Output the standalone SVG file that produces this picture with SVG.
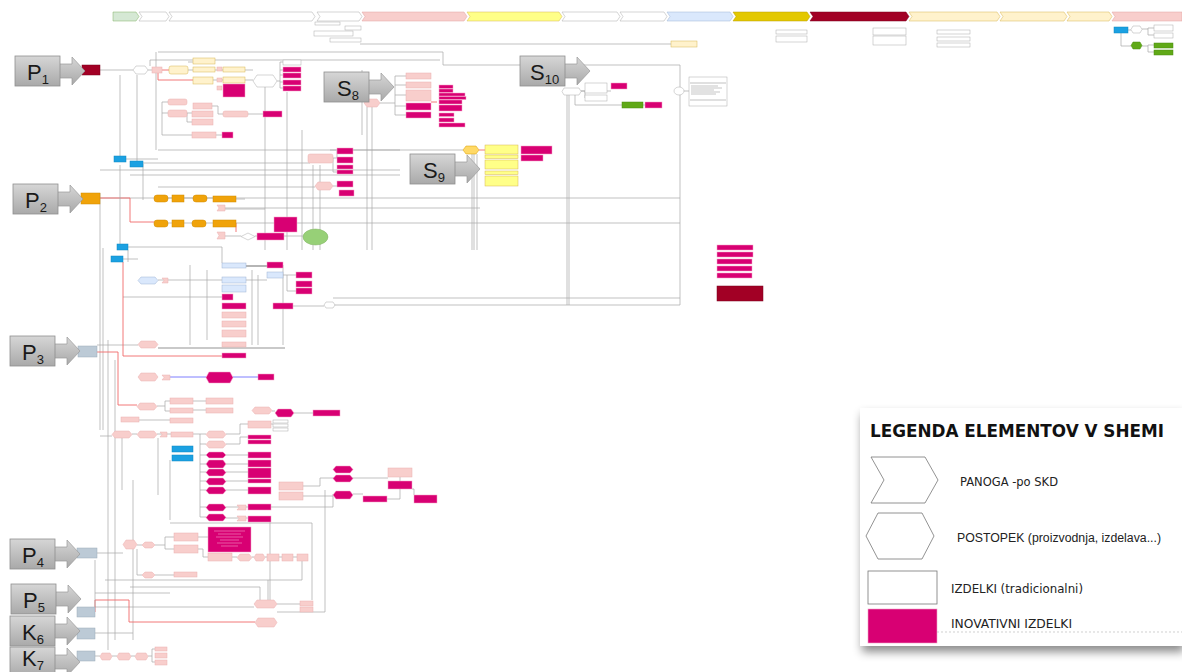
<svg xmlns="http://www.w3.org/2000/svg" width="1182" height="672" viewBox="0 0 1182 672">
<defs>
<linearGradient id="gg" x1="0" y1="0" x2="0" y2="1"><stop offset="0" stop-color="#d6d6d6"/><stop offset="1" stop-color="#a9a9a9"/></linearGradient>
<filter id="sh" x="-10%" y="-10%" width="125%" height="130%"><feDropShadow dx="2" dy="6" stdDeviation="5" flood-color="#000" flood-opacity="0.45"/></filter>
<g id="lbl"><path d="M44,8 H57 V1 L70,15 L57,29 V22 H44 Z" fill="url(#gg)" stroke="#9a9a9a" stroke-width="0.7"/><rect x="0" y="0" width="45" height="30" fill="url(#gg)" stroke="#8f8f8f" stroke-width="0.8"/></g>
</defs>
<style>
.w{fill:#fff;stroke:#aaa;stroke-width:.5}
.pk{fill:#f8cecc;stroke:#eab0b0;stroke-width:.5}
.mg{fill:#d80073;stroke:#f5a0c8;stroke-width:.5}
.yl{fill:#fff2cc;stroke:#d6b656;stroke-width:.5}
.yb{fill:#ffff88;stroke:#d6b656;stroke-width:.5}
.or{fill:#f0a30a;stroke:#d08a00;stroke-width:.5}
.bl{fill:#1ba1e2;stroke:#0e86c0;stroke-width:.5}
.lb{fill:#dae8fc;stroke:#9fb4d4;stroke-width:.5}
.bg{fill:#bccad6;stroke:#9aaab8;stroke-width:.5}
.gr{fill:#60a917;stroke:#4a8a10;stroke-width:.5}
.dr{fill:#a20025;stroke:#7a001c;stroke-width:.5}
.ln{fill:none;stroke:#a6a6a6;stroke-width:.7}
.ld{fill:none;stroke:#666;stroke-width:.7}
.lr{fill:none;stroke:#f06a6a;stroke-width:.9}
.lu{fill:none;stroke:#7070ff;stroke-width:.9}
.big{font-family:"Liberation Sans",Arial,sans-serif;font-size:22px;fill:#1a1a1a}
.sub{font-size:13px}
.lg{font-family:"DejaVu Sans",Verdana,sans-serif;font-size:13px;fill:#222}
</style>
<rect width="1182" height="672" fill="#fff"/>

<g id="header">
<path d="M113,12 H136 L139,16.5 L136,21 H113 Z" fill="#d5e8d4" stroke="#82b366" stroke-width=".5"/>
<path d="M139,12 H166 L169,16.5 L166,21 H139 L142,16.5 Z" class="w"/>
<path d="M169,12 H312 L315,16.5 L312,21 H169 L172,16.5 Z" class="w"/>
<path d="M317,12 H359 L362,16.5 L359,21 H317 L320,16.5 Z" class="w"/>
<path d="M362,12 H464 L467,16.5 L464,21 H362 L365,16.5 Z" fill="#f8cecc" stroke="#e0a0a0" stroke-width=".5"/>
<path d="M467,12 H559 L562,16.5 L559,21 H467 L470,16.5 Z" class="yb"/>
<path d="M562,12 H617 L620,16.5 L617,21 H562 L565,16.5 Z" class="w"/>
<path d="M620,12 H664 L667,16.5 L664,21 H620 L623,16.5 Z" class="w"/>
<path d="M667,12 H730 L733,16.5 L730,21 H667 L670,16.5 Z" class="lb"/>
<path d="M733,12 H807 L810,16.5 L807,21 H733 L736,16.5 Z" fill="#e3c800" stroke="#b89f00" stroke-width=".5"/>
<path d="M810,12 H906 L909,16.5 L906,21 H810 L813,16.5 Z" class="dr"/>
<path d="M909,12 H997 L1000,16.5 L997,21 H909 L912,16.5 Z" class="yl"/>
<path d="M1000,12 H1064 L1067,16.5 L1064,21 H1000 L1003,16.5 Z" class="yl"/>
<path d="M1067,12 H1109 L1112,16.5 L1109,21 H1067 L1070,16.5 Z" class="yl"/>
<path d="M1112,12 H1182 V21 H1112 L1115,16.5 Z" fill="#f8cecc" stroke="#e0a0a0" stroke-width=".5"/>
<rect x="315" y="22" width="25" height="3" class="w"/><rect x="345" y="26" width="16" height="4" class="w"/>
<rect x="314" y="31" width="39" height="5" class="w"/><rect x="330" y="38" width="31" height="4" class="w"/>
<rect x="671" y="41" width="26" height="6" class="yl"/>
<rect x="776" y="30" width="31" height="4" class="w"/><rect x="776" y="36" width="31" height="6" class="w"/>
<rect x="873" y="28" width="33" height="7" class="w"/><rect x="873" y="36" width="33" height="9" class="w"/>
<rect x="937" y="30" width="33" height="4" class="w"/><rect x="937" y="37" width="33" height="4" class="w"/><rect x="937" y="43" width="33" height="4" class="w"/>
</g>

<g id="connectors">
<path class="ln" d="M1128,30 H1131 M1142,29 H1148 V28 H1154 M1148,29 V35 H1154 M1121,33 V46 H1131 M1142,46 H1148 V45 H1154 M1148,46 V52 H1154"/>
<path class="ln" d="M158,52 H443 V65 H680 V305 M156,52 V150 M158,60 H440 M360,44 H671 M137,75 V165 M120,75 V157 M150,66 V60 H158"/>
<path class="ln" d="M100,70 H133 M148,70 H152 M188,70 H193 M188,62 H193 M215,70 H223 M213,80 H223 M245,70 H253 M245,80 H253 M277,81 H280 M280,62 V88 H283 M280,70 H283 M280,75 H283 M280,82 H283 M280,62 H283"/>
<path class="lr" d="M158,73 V80 H193 M162,70 H169"/>
<path class="ln" d="M162,102 H168 M162,102 V135 M162,113 H168 M187,113 H192 M187,113 V122 H192 M212,106 H218 V114 H223 M248,114 H263 M162,135 H192 M216,135 H222 M158,150 H400 M143,163 H310 M126,159 H158 M100,170 H400 M130,175 H400 M158,187 H315 M333,186 H337 M333,158 H337 V151 M333,158 V172 H337"/>
<path class="lr" d="M431,102 H437"/>
<path class="ln" d="M265,87 V250 M287,92 V250 M302,130 V250 M313,165 V250 M320,165 V250 M362,70 V135 M367,107 V250 M372,107 V250 M380,103 H395 V76 H406 M395,85 H406 M395,95 H406 M395,106 H406 M395,115 H406 M395,103 V115"/>
<path class="ln" d="M330,150 H463 M100,198 H680 M225,208 H480 M236,223 H680 M100,193 V430 M103,248 V430 M472,154 V250 M474,154 V250 M477,154 V250 M567,88 V305 M569,95 V305 M581,91 H585 V98 M581,91 H611 M575,95 V105 H622 M643,105 H645 M683,91 H689"/>
<path class="lr" d="M479,150 H485 M100,198 H130 V222 H154"/>
<path class="ln" d="M168,198 H172 M184,198 H193 M207,198 H213 M168,223 H172 M184,223 H192 M206,223 H213 M236,199 H245 M255,236 H257 M284,236 H303 M225,236 H241 M225,209 H265"/>
<path class="lr" d="M236,223 V232"/>
<path class="ln" d="M330,305 H680 M333,298 H680 M128,247 H222 V263 M123,259 H138 M158,280 H222 M123,297 H222 M97,345 H138 M190,265 V345 M207,270 V340 M252,270 V345 M258,275 V345 M283,265 V345 M246,266 H267 M246,280 H267 M283,275 H296 M287,275 V291 H296 M293,306 H324 M108,340 V650 M115,360 V640"/>
<path class="ld" d="M158,348 H285 M240,266 H267"/>
<path class="lr" d="M123,262 V356 H222 M97,352 H118 V405 H137"/>
<path class="lu" d="M168,377 H206 M233,377 H258"/>
<path class="ln" d="M157,406 H165 V401 H170 M165,406 V411 H170 M193,401 H206 M193,410 H206 M272,411 H275 M294,413 H313 M139,420 H170 M271,424 H273 M100,436 H112 M132,434 H137 M157,434 H171 M193,434 H200 V490 M200,434 H206 M200,444 H206 M200,455 H206 M200,464 H206 M200,472 H206 M200,481 H206 M200,490 H206 M226,434 H240 V424 H248 M226,444 H240 V437 H248 M226,455 H248 M226,464 H248 M226,472 H248 M226,481 H248 M226,490 H248 M122,438 V490 M158,438 V495 M170,460 V520 M170,523 H312 V600 M200,490 V517 H206 M200,507 H206 M226,507 H248 M226,518 H248"/>
<path class="ln" d="M303,486 H320 V478 H388 M303,496 H333 M353,494 H363 M400,477 V481 M387,499 H400 V489 M412,489 H414 V495 M271,507 H333 V494 M325,490 V612"/>
<path class="ln" d="M97,553 H123 M137,545 H142 M155,545 H165 V537 H174 M165,545 V549 H174 M198,537 H208 M198,549 H203 V557 H208 M232,557 H237 M252,557 H254 M265,557 H267 M279,557 H282 M293,557 H297 M137,549 V575 H142 M155,575 H174 M302,561 V580 H268 V600 M105,580 H268 M130,587 H260 V600 M95,593 H170 M133,480 V640 M95,607 H254 M277,604 H300 M277,612 H325 M95,633 H133 M95,656 H100 M112,656 H117 M131,656 H135 M148,656 H152 V649 H155 M152,656 V662 H155 M270,520 V605"/>
<path class="lr" d="M95,612 V600 H129 V622 H255"/>
<path class="ln" d="M143,164 V200 M120,165 V245 M128,250 V262 M95,560 V607"/>
</g>

<g id="nodes">
<rect x="82" y="65" width="18" height="10" class="dr"/>
<polygon points="136,66 145,66 148,70 145,74 136,74 133,70" class="w"/>
<rect x="152" y="67" width="10" height="6" class="pk"/>
<rect x="169" y="66" width="19" height="8" rx="2" class="yl"/>
<rect x="193" y="58" width="22" height="6" class="yl"/>
<rect x="193" y="67" width="22" height="5" class="yl"/>
<rect x="217" y="67" width="5" height="4" class="pk"/>
<rect x="223" y="67" width="22" height="5" class="yl"/>
<rect x="193" y="77" width="20" height="7" class="yl"/>
<rect x="217" y="78" width="5" height="4" class="pk"/>
<rect x="223" y="77" width="22" height="6" class="yl"/>
<rect x="217" y="86" width="5" height="4" class="pk"/>
<rect x="223" y="84" width="22" height="13" class="mg"/>
<polygon points="257,75 273,75 277,81 273,87 257,87 253,81" class="w"/>
<rect x="283" y="60" width="18" height="5" class="w"/>
<rect x="283" y="67" width="18" height="5" class="mg"/>
<rect x="283" y="73" width="18" height="5" class="mg"/>
<rect x="283" y="80" width="18" height="5" class="mg"/>
<rect x="283" y="86" width="18" height="5" class="mg"/>
<rect x="168" y="99" width="19" height="6" rx="2" class="pk"/>
<rect x="193" y="103" width="19" height="6" class="pk"/>
<rect x="168" y="110" width="19" height="7" rx="2" class="pk"/>
<rect x="192" y="111" width="21" height="6" class="pk"/>
<rect x="192" y="119" width="21" height="6" class="pk"/>
<rect x="223" y="111" width="25" height="6" rx="2" class="pk"/>
<rect x="263" y="111" width="19" height="6" class="mg"/>
<rect x="192" y="132" width="24" height="6" class="pk"/>
<rect x="222" y="132" width="11" height="6" class="mg"/>
<rect x="114" y="156" width="12" height="6" class="bl"/>
<rect x="130" y="161" width="13" height="6" class="bl"/>
<rect x="308" y="154" width="25" height="9" rx="2" class="pk"/>
<rect x="337" y="148" width="16" height="6" class="mg"/>
<rect x="337" y="157" width="16" height="6" class="mg"/>
<rect x="337" y="165" width="16" height="4" class="mg"/>
<rect x="337" y="170" width="16" height="4" class="mg"/>
<polygon points="318,182 330,182 333,186 330,190 318,190 315,186" class="pk"/>
<rect x="337" y="181" width="16" height="6" class="mg"/>
<rect x="339" y="190" width="15" height="6" class="mg"/>

<rect x="81" y="193" width="19" height="11" class="or"/>
<rect x="154" y="195" width="14" height="7" rx="3" class="or"/>
<rect x="172" y="195" width="12" height="7" class="or"/>
<rect x="193" y="195" width="14" height="7" rx="3" class="or"/>
<rect x="213" y="196" width="23" height="6" class="or"/>
<path d="M217,205 H225 V211 H217 L219,208 Z" class="pk"/>
<rect x="154" y="220" width="14" height="7" rx="3" class="or"/>
<rect x="172" y="220" width="12" height="7" class="or"/>
<rect x="192" y="220" width="14" height="7" rx="3" class="or"/>
<rect x="213" y="220" width="23" height="7" class="or"/>
<path d="M217,232 H225 V239 H217 L219,235.5 Z" class="pk"/>
<polygon points="248,233 255,236.5 248,240 241,236.5" class="w"/>
<rect x="257" y="233" width="27" height="7" class="mg"/>
<rect x="274" y="217" width="23" height="15" class="mg"/>
<ellipse cx="315.5" cy="237" rx="12.5" ry="8" fill="#97d077" stroke="#82b366" stroke-width=".5"/>

<polygon points="367,99 377,99 380,103 377,107 367,107 364,103" class="pk"/>
<rect x="406" y="73" width="25" height="6" class="pk"/>
<rect x="406" y="82" width="25" height="6" class="pk"/>
<rect x="406" y="90" width="25" height="11" class="pk"/>
<rect x="406" y="103" width="25" height="7" class="mg"/>
<rect x="406" y="112" width="25" height="6" class="mg"/>
<rect x="439" y="85" width="14" height="3.5" class="mg"/>
<rect x="439" y="89" width="14" height="3.5" class="mg"/>
<rect x="439" y="93" width="26" height="3" class="mg"/>
<rect x="439" y="96.5" width="27" height="3" class="mg"/>
<rect x="439" y="100" width="23" height="4" class="mg"/>
<rect x="439" y="105" width="23" height="6" class="mg"/>
<rect x="439" y="113" width="15" height="3.5" class="mg"/>
<rect x="439" y="118" width="15" height="4" class="mg"/>
<rect x="439" y="123" width="26" height="4" class="mg"/>

<polygon points="564,88 579,88 581,91.5 579,95 564,95 562,91.5" class="w"/>
<rect x="585" y="83" width="22" height="10" class="w"/>
<rect x="585" y="95" width="22" height="6" class="w"/>
<rect x="611" y="83" width="16" height="6" class="mg"/>
<rect x="622" y="102" width="21" height="6" class="gr"/>
<rect x="645" y="102" width="17" height="6" class="mg"/>
<ellipse cx="679" cy="91" rx="5" ry="4" class="w"/>
<rect x="689" y="77" width="38" height="29" class="w"/>
<path d="M690,83 H726 M690,100 H726" class="ln"/>
<path d="M691,86 H718 M691,88 H722 M691,90 H714 M691,92 H720 M691,94 H716" stroke="#888" stroke-width=".5"/>

<polygon points="466,146 476,146 479,150 476,154 466,154 463,150" fill="#ffd966" stroke="#d79b00" stroke-width=".5"/>
<rect x="485" y="145" width="33" height="9" class="yb"/>
<rect x="485" y="155" width="33" height="3.5" class="yb"/>
<rect x="485" y="160" width="33" height="9" class="yb"/>
<rect x="485" y="171" width="33" height="3.5" class="yb"/>
<rect x="485" y="176" width="33" height="10" class="yb"/>
<rect x="521" y="146" width="31" height="8" class="mg"/>
<rect x="521" y="155" width="22" height="6" class="mg"/>

<rect x="717" y="245" width="36" height="5" class="mg"/>
<rect x="717" y="252" width="36" height="5" class="mg"/>
<rect x="717" y="259" width="35" height="5" class="mg"/>
<rect x="717" y="266" width="35" height="5" class="mg"/>
<rect x="717" y="273" width="35" height="5" class="mg"/>
<rect x="717" y="286" width="46" height="15" class="dr"/>

<rect x="1114" y="27" width="14" height="6" class="bl"/>
<polygon points="1133,26 1140,26 1142,29.5 1140,33 1133,33 1131,29.5" class="w"/>
<rect x="1154" y="25" width="19" height="6" class="w"/>
<rect x="1154" y="33" width="19" height="5" class="w"/>
<polygon points="1133,42 1140,42 1142,45.5 1140,49 1133,49 1131,45.5" class="gr"/>
<rect x="1154" y="43" width="19" height="5" class="gr"/>
<rect x="1154" y="50" width="19" height="5" class="gr"/>

<rect x="117" y="244" width="11" height="6" class="bl"/>
<rect x="111" y="256" width="12" height="6" class="bl"/>
<rect x="78" y="346" width="19" height="11" class="bg"/>
<polygon points="141,277 155,277 158,280.5 155,284 141,284 138,280.5" class="lb"/>
<path d="M162,278 H168 V283 H162 L164,280.5 Z" class="pk"/>
<rect x="222" y="263" width="24" height="5" class="lb"/>
<rect x="267" y="262" width="16" height="6" class="mg"/>
<rect x="222" y="277" width="24" height="6" class="lb"/>
<rect x="222" y="285" width="24" height="7" class="lb"/>
<rect x="267" y="272" width="16" height="6" class="lb"/>
<rect x="296" y="272" width="16" height="6" class="mg"/>
<rect x="296" y="281" width="16" height="6" class="mg"/>
<rect x="296" y="288" width="16" height="6" class="mg"/>
<rect x="222" y="294" width="11" height="6" class="mg"/>
<rect x="222" y="303" width="24" height="6" class="mg"/>
<rect x="222" y="312" width="24" height="6" class="pk"/>
<rect x="222" y="321" width="24" height="6" class="pk"/>
<rect x="222" y="330" width="24" height="7" class="pk"/>
<rect x="222" y="342" width="24" height="5" class="pk"/>
<rect x="273" y="303" width="20" height="6" class="mg"/>
<polygon points="326,302 333,302 335,305 333,308 326,308 324,305" class="w"/>
<polygon points="141,341 155,341 158,344.5 155,348 141,348 138,344.5" class="pk"/>
<rect x="222" y="353" width="24" height="5" class="mg"/>
<polygon points="141,373 155,373 158,377 155,381 141,381 138,377" class="pk"/>
<path d="M162,375 H170 V380 H162 L164,377.5 Z" class="pk"/>
<polygon points="209,372 230,372 233,377.5 230,383 209,383 206,377.5" class="mg"/>
<rect x="258" y="374" width="16" height="6" class="mg"/>
<polygon points="140,403 154,403 157,406.5 154,410 140,410 137,406.5" class="pk"/>
<rect x="170" y="398" width="23" height="6" class="pk"/>
<rect x="170" y="408" width="23" height="5" class="pk"/>
<rect x="206" y="398" width="27" height="6" class="pk"/>
<rect x="206" y="408" width="27" height="5" class="pk"/>
<polygon points="255,407 269,407 272,410.5 269,414 255,414 252,410.5" class="pk"/>
<polygon points="278,409 291,409 294,413 291,417 278,417 275,413" class="mg"/>
<rect x="313" y="410" width="27" height="6" class="mg"/>
<rect x="121" y="417" width="18" height="5" class="pk"/>
<rect x="170" y="418" width="23" height="5" class="pk"/>
<rect x="248" y="421" width="23" height="7" class="pk"/>
<rect x="273" y="420" width="15" height="3" class="w"/>
<rect x="273" y="424" width="15" height="3" class="w"/>
<rect x="273" y="428" width="15" height="3" class="w"/>

<polygon points="115,431 129,431 132,434.5 129,438 115,438 112,434.5" class="pk"/>
<polygon points="140,431 154,431 157,434.5 154,438 140,438 137,434.5" class="pk"/>
<path d="M160,432 H167 V437 H160 L162,434.5 Z" class="pk"/>
<rect x="171" y="432" width="22" height="5" class="pk"/>
<polygon points="209,431 223,431 226,434.5 223,438 209,438 206,434.5" class="pk"/>
<polygon points="209,441 223,441 226,444.5 223,448 209,448 206,444.5" class="pk"/>
<rect x="248" y="435" width="23" height="4" class="mg"/>
<rect x="248" y="440" width="23" height="4" class="mg"/>
<rect x="172" y="446" width="21" height="6" class="bl"/>
<rect x="172" y="455" width="21" height="6" class="bl"/>
<polygon points="209,452 223,452 226,455 223,458 209,458 206,455" class="mg"/>
<polygon points="209,460 223,460 226,464 223,468 209,468 206,464" class="mg"/>
<polygon points="209,469 223,469 226,472.5 223,476 209,476 206,472.5" class="mg"/>
<polygon points="209,478 223,478 226,481.5 223,485 209,485 206,481.5" class="mg"/>
<polygon points="209,487 223,487 226,490.5 223,494 209,494 206,490.5" class="mg"/>
<rect x="248" y="452" width="23" height="6" class="mg"/>
<rect x="248" y="460" width="23" height="7" class="mg"/>
<rect x="248" y="468" width="23" height="10" class="mg"/>
<rect x="248" y="479" width="23" height="4" class="mg"/>
<rect x="248" y="487" width="23" height="7" class="mg"/>
<polygon points="209,504 223,504 226,507.5 223,511 209,511 206,507.5" class="mg"/>
<polygon points="209,514 223,514 226,517.5 223,521 209,521 206,517.5" class="mg"/>
<path d="M237,505 H246 V510 H237 L239,507.5 Z" class="pk"/>
<path d="M237,516 H246 V521 H237 L239,518.5 Z" class="pk"/>
<rect x="248" y="504" width="23" height="6" class="mg"/>
<rect x="248" y="516" width="23" height="6" class="mg"/>
<rect x="279" y="482" width="24" height="8" class="pk"/>
<rect x="279" y="492" width="24" height="8" class="pk"/>
<polygon points="336,466 350,466 353,469.5 350,473 336,473 333,469.5" class="mg"/>
<polygon points="336,475 350,475 353,478.5 350,482 336,482 333,478.5" class="mg"/>
<polygon points="336,491 350,491 353,495 350,499 336,499 333,495" class="mg"/>
<rect x="388" y="468" width="24" height="9" class="pk"/>
<rect x="388" y="481" width="24" height="8" class="mg"/>
<rect x="363" y="496" width="24" height="6" class="mg"/>
<rect x="414" y="495" width="23" height="8" class="mg"/>

<rect x="77" y="548" width="20" height="10" class="bg"/>
<polygon points="126,540 134,540 137,544.5 134,549 126,549 123,544.5" class="pk"/>
<polygon points="145,542 152,542 155,545 152,548 145,548 142,545" class="pk"/>
<rect x="174" y="533" width="24" height="8" class="pk"/>
<rect x="174" y="545" width="24" height="8" class="pk"/>
<rect x="208" y="527" width="43" height="25" class="mg"/>
<path d="M214,531 H245 M218,534 H241 M216,537 H243 M220,540 H239 M217,543 H242 M221,546 H238" stroke="#f9b3d6" stroke-width=".5"/>
<rect x="208" y="553" width="24" height="8" class="pk"/>
<polygon points="240,554 249,554 252,557.5 249,561 240,561 237,557.5" class="pk"/>
<polygon points="256,554 263,554 265,557.5 263,561 256,561 254,557.5" class="pk"/>
<rect x="267" y="554" width="12" height="7" class="pk"/>
<rect x="282" y="554" width="11" height="7" class="pk"/>
<rect x="297" y="554" width="11" height="7" class="pk"/>
<polygon points="145,572 152,572 155,575 152,578 145,578 142,575" class="pk"/>
<rect x="174" y="572" width="23" height="5" class="pk"/>

<rect x="77" y="607" width="18" height="10" class="bg"/>
<rect x="77" y="628" width="18" height="11" class="bg"/>
<rect x="77" y="651" width="18" height="10" class="bg"/>
<polygon points="102,653 110,653 112,656.5 110,660 102,660 100,656.5" class="pk"/>
<polygon points="119,653 129,653 131,656.5 129,660 119,660 117,656.5" class="pk"/>
<polygon points="137,653 146,653 148,656.5 146,660 137,660 135,656.5" class="pk"/>
<rect x="155" y="647" width="12" height="4" class="pk"/>
<rect x="155" y="653" width="12" height="5" class="pk"/>
<rect x="155" y="660" width="12" height="5" class="pk"/>
<polygon points="257,600 274,600 277,604 274,608 257,608 254,604" class="pk"/>
<polygon points="258,618 274,618 277,622.5 274,627 258,627 255,622.5" class="pk"/>
<rect x="300" y="601" width="13" height="5" class="pk"/>
<rect x="300" y="607" width="13" height="5" class="pk"/>
</g>

<g id="labels">
<use href="#lbl" x="15" y="56"/>
<text class="big" x="27" y="80">P<tspan class="sub" dy="4">1</tspan></text>
<use href="#lbl" x="13" y="184"/>
<text class="big" x="25" y="208">P<tspan class="sub" dy="4">2</tspan></text>
<use href="#lbl" x="10" y="336"/>
<text class="big" x="22" y="360">P<tspan class="sub" dy="4">3</tspan></text>
<use href="#lbl" x="10" y="539"/>
<text class="big" x="22" y="563">P<tspan class="sub" dy="4">4</tspan></text>
<use href="#lbl" x="11" y="584"/>
<text class="big" x="23" y="608">P<tspan class="sub" dy="4">5</tspan></text>
<use href="#lbl" x="10" y="616"/>
<text class="big" x="22" y="640">K<tspan class="sub" dy="4">6</tspan></text>
<use href="#lbl" x="10" y="647"/>
<text class="big" x="22" y="666">K<tspan class="sub" dy="4">7</tspan></text>
<use href="#lbl" x="324" y="72"/>
<text class="big" x="337" y="96">S<tspan class="sub" dy="4">8</tspan></text>
<use href="#lbl" x="410" y="154"/>
<text class="big" x="423" y="178">S<tspan class="sub" dy="4">9</tspan></text>
<use href="#lbl" x="520" y="56"/>
<text class="big" x="530" y="80">S<tspan class="sub" dy="4">10</tspan></text>
</g>

<g id="legend">
<rect x="860" y="408" width="322" height="238" fill="#fff" filter="url(#sh)"/>
<text x="870" y="437" font-family="'DejaVu Sans',Verdana,sans-serif" font-weight="bold" font-size="17" textLength="294" lengthAdjust="spacingAndGlyphs" fill="#111">LEGENDA ELEMENTOV V SHEMI</text>
<polygon points="871,457 925,457 938,480 925,503 871,503 884,480" fill="#fff" stroke="#777" stroke-width="0.8"/>
<text class="lg" x="960" y="486" textLength="98" lengthAdjust="spacingAndGlyphs">PANOGA -po SKD</text>
<polygon points="878,513 922,513 934,536 922,559 878,559 866,536" fill="#fff" stroke="#777" stroke-width="0.8"/>
<text x="957" y="542" font-family="'Liberation Sans',Arial,sans-serif" font-size="12.5" fill="#222" textLength="204" lengthAdjust="spacingAndGlyphs">POSTOPEK (proizvodnja, izdelava...)</text>
<rect x="868" y="571" width="69" height="33" fill="#fff" stroke="#777" stroke-width="0.8"/>
<text class="lg" x="951" y="593" textLength="132" lengthAdjust="spacingAndGlyphs">IZDELKI (tradicionalni)</text>
<rect x="868" y="609" width="69" height="34" fill="#d80073" stroke="#f0a0c8" stroke-width="0.6"/>
<line x1="937" y1="632" x2="1182" y2="632" stroke="#bbb" stroke-width="0.7" stroke-dasharray="2,2"/>
<text class="lg" x="951" y="628" textLength="121" lengthAdjust="spacingAndGlyphs">INOVATIVNI IZDELKI</text>
</g>
</svg>
